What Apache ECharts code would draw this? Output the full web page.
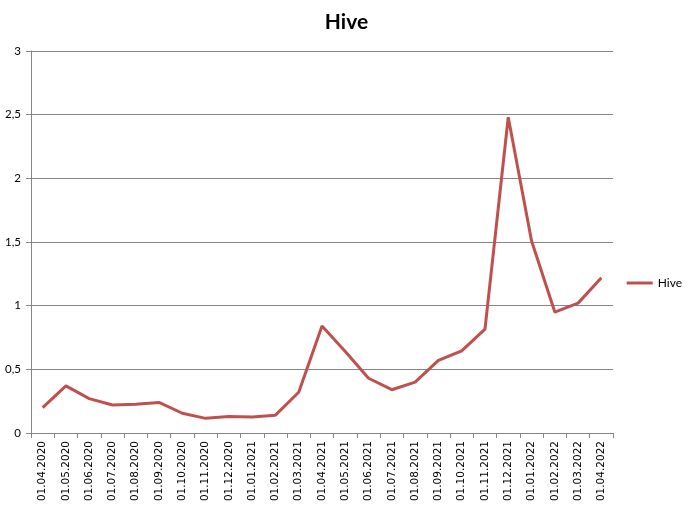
<!DOCTYPE html>
<html>
<head>
<meta charset="utf-8">
<script src="https://cdn.jsdelivr.net/npm/echarts@6/dist/echarts.min.js"></script>
<style>html,body{margin:0;padding:0;background:#fff}#c{width:693px;height:511px}</style>
</head>
<body>
<div id="c"></div>
<script>
const categories = ["01.04.2020","01.05.2020","01.06.2020","01.07.2020","01.08.2020","01.09.2020","01.10.2020","01.11.2020","01.12.2020","01.01.2021","01.02.2021","01.03.2021","01.04.2021","01.05.2021","01.06.2021","01.07.2021","01.08.2021","01.09.2021","01.10.2021","01.11.2021","01.12.2021","01.01.2022","01.02.2022","01.03.2022","01.04.2022"];
const hive = [0.2,0.37,0.27,0.22,0.225,0.24,0.155,0.115,0.13,0.125,0.14,0.32,0.84,0.64,0.43,0.34,0.40,0.57,0.645,0.815,2.48,1.51,0.95,1.02,1.22];
const seriesName = "Hive";
const chart = echarts.init(document.getElementById('c'));
chart.setOption({
  animation:false,
  backgroundColor:'#fff',
  title:{text:'Hive',left:'center',top:7,textStyle:{fontFamily:'Lato',fontWeight:'bold',fontSize:21,color:'#000'}},
  legend:{data:[seriesName],right:6,top:272,orient:'vertical',icon:'rect',itemWidth:26,itemHeight:3,itemGap:4,
    textStyle:{fontFamily:'Lato',fontSize:12,color:'#000'}},
  grid:{left:31,right:80,top:51,bottom:78,containLabel:false},
  xAxis:{type:'category',data:categories,boundaryGap:true,
    axisLine:{lineStyle:{color:'#868686',width:1}},
    axisTick:{show:true,length:5,alignWithLabel:false,lineStyle:{color:'#868686'}},
    axisLabel:{rotate:90,interval:0,fontFamily:'DejaVu Sans',fontSize:10.5,color:'#000',margin:8}},
  yAxis:{type:'value',min:0,max:3,interval:0.5,
    axisLine:{show:true,lineStyle:{color:'#868686'}},
    axisTick:{show:true,length:5,inside:false,lineStyle:{color:'#868686'}},
    splitLine:{lineStyle:{color:'#868686',width:1}},
    axisLabel:{fontFamily:'Lato',fontSize:11.5,color:'#000',margin:10,formatter:v=>String(v).replace('.',',')}},
  series:[{name:seriesName,type:'line',data:hive,symbol:'none',lineStyle:{color:'#C0504D',width:3},itemStyle:{color:'#C0504D'}}]
});
</script>
</body>
</html>
